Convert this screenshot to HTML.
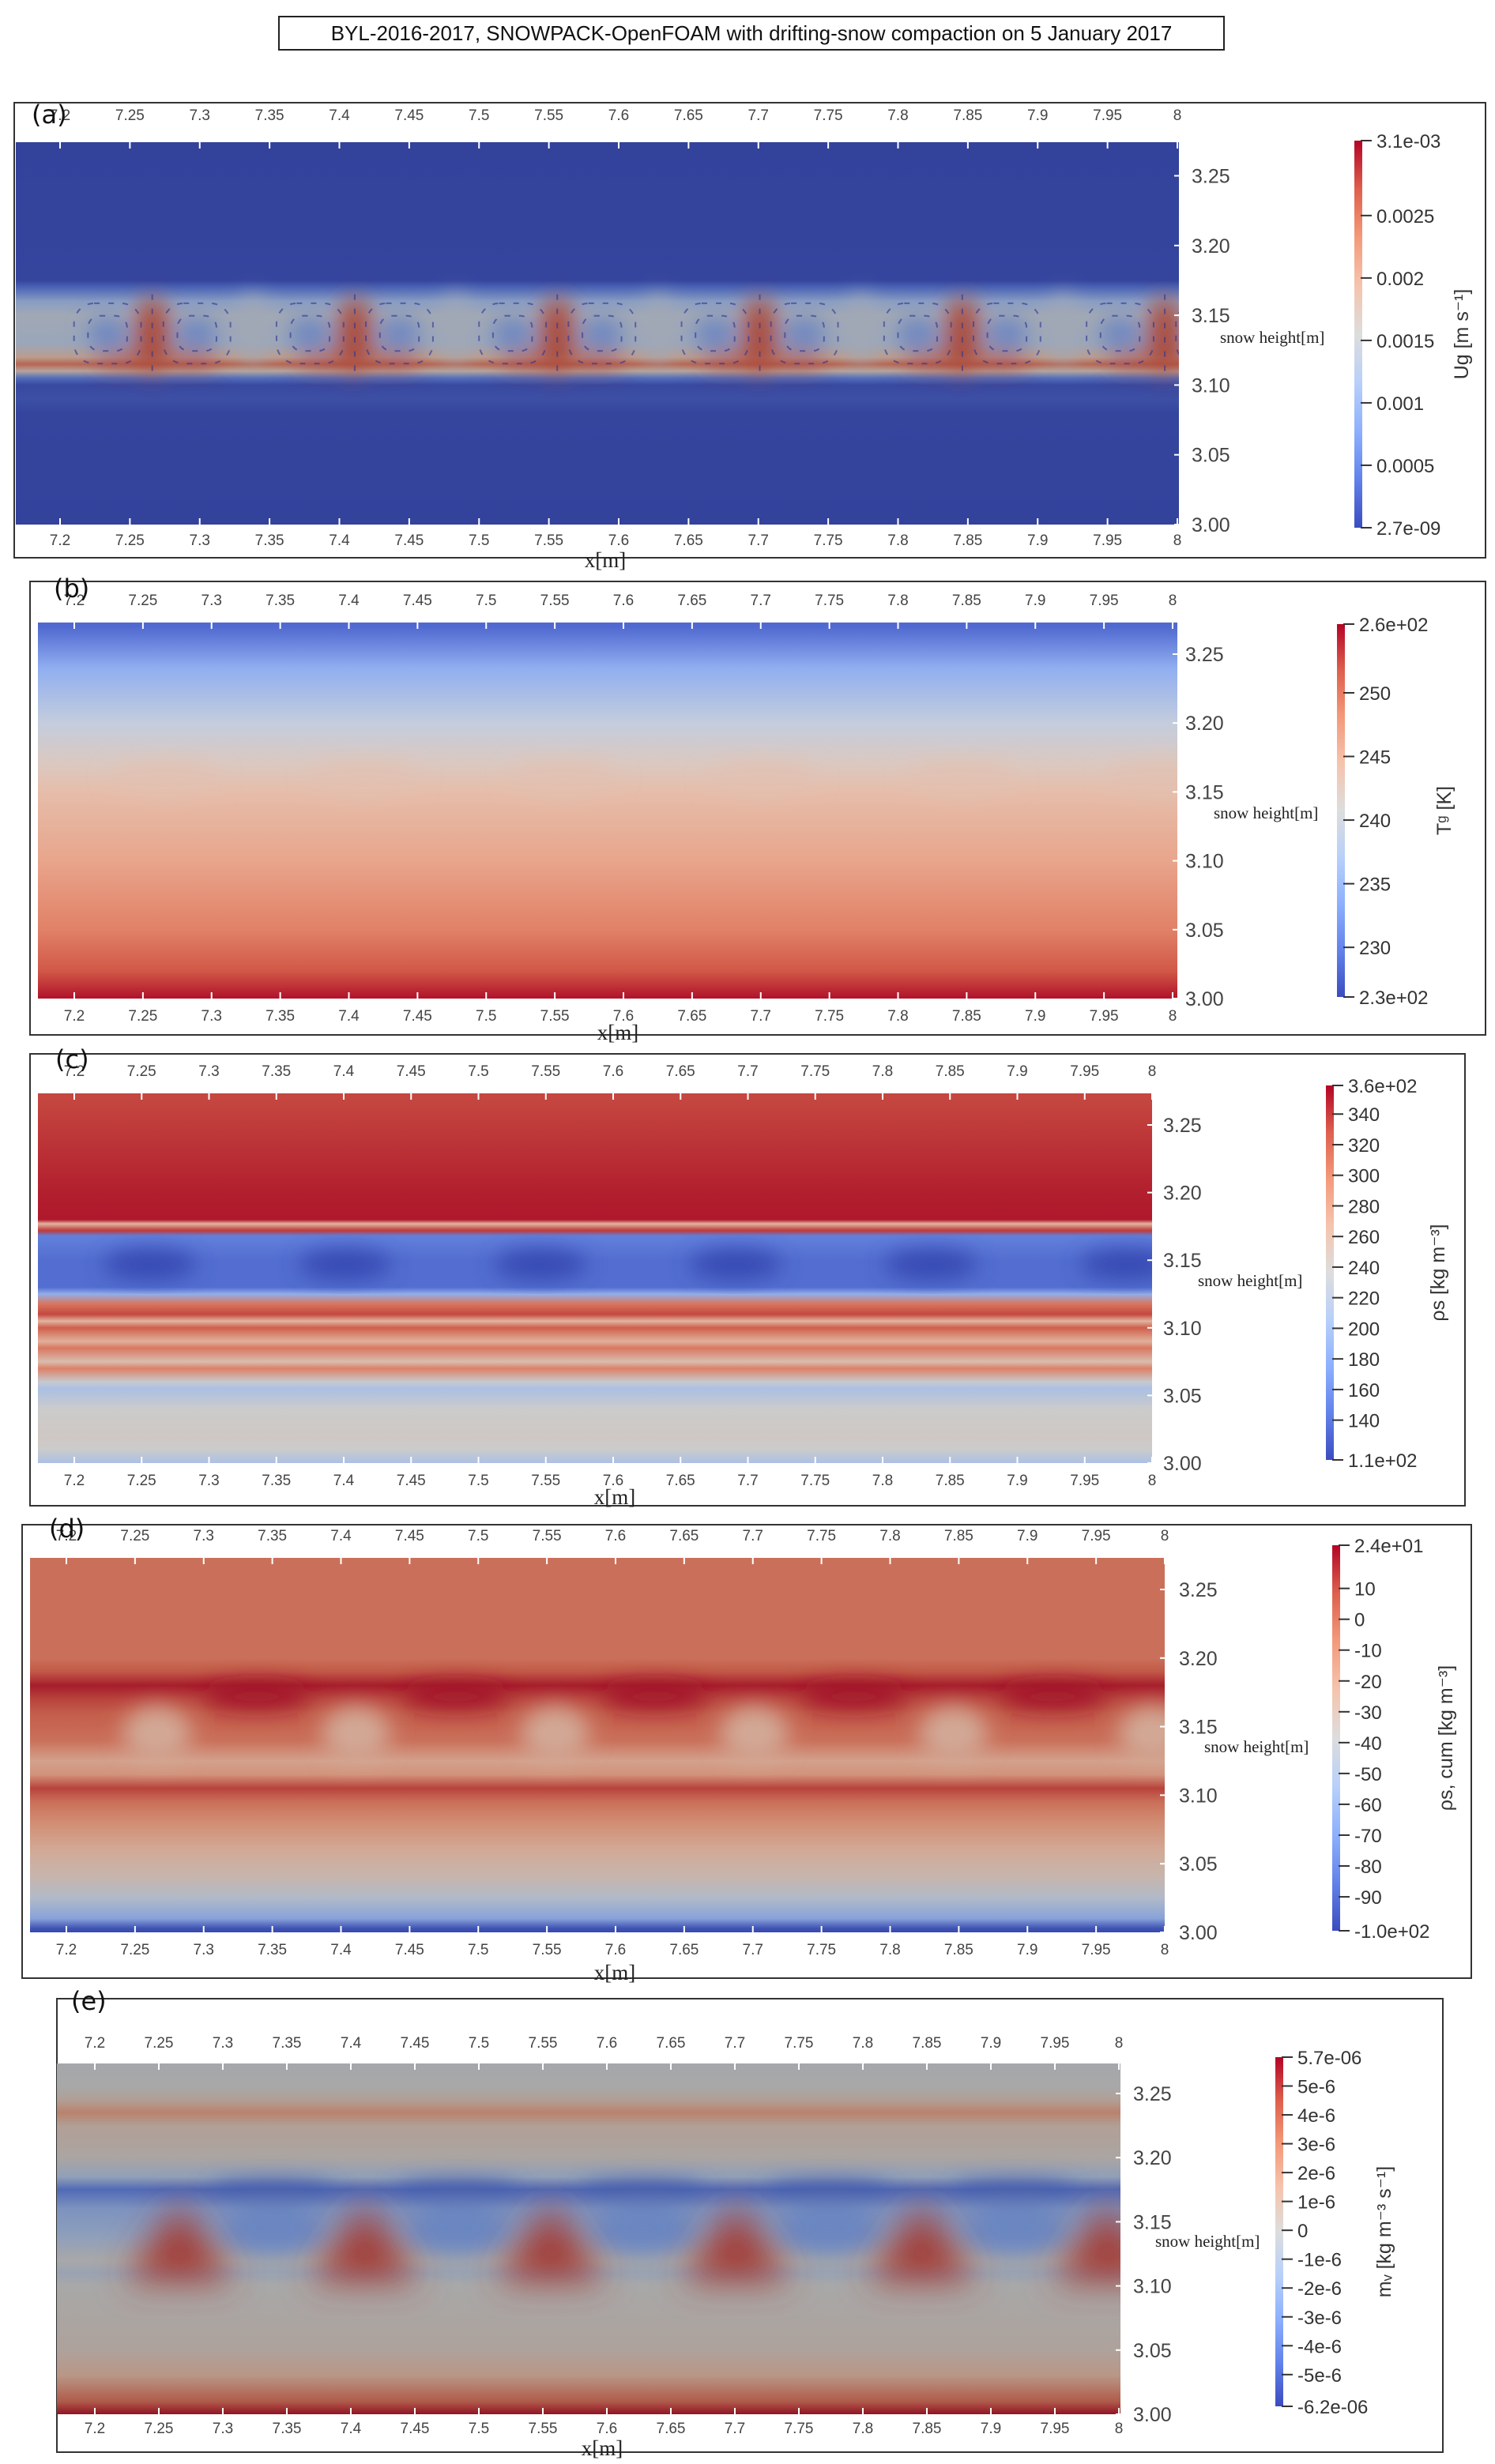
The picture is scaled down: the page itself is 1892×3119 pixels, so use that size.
<!DOCTYPE html>
<html><head><meta charset="utf-8">
<style>
html,body{margin:0;padding:0;background:#fff;}
body{width:1892px;height:3119px;position:relative;overflow:hidden;font-family:"Liberation Sans",sans-serif;}
#title{position:absolute;left:352px;top:20px;width:1194px;height:40px;border:2px solid #222;font-size:26px;line-height:40px;text-align:center;color:#111;}
svg{position:absolute;left:0;top:0;}
</style></head>
<body>
<div id="title">BYL-2016-2017, SNOWPACK-OpenFOAM with drifting-snow compaction on 5 January 2017</div>
<svg id="fig" width="1892" height="3119" xmlns="http://www.w3.org/2000/svg"></svg>
<script>
// ---------- data ----------
const xTicks = [7.2,7.25,7.3,7.35,7.4,7.45,7.5,7.55,7.6,7.65,7.7,7.75,7.8,7.85,7.9,7.95,8];
const xTickLabels = ["7.2","7.25","7.3","7.35","7.4","7.45","7.5","7.55","7.6","7.65","7.7","7.75","7.8","7.85","7.9","7.95","8"];
const yTicks = [3.00,3.05,3.10,3.15,3.20,3.25];
const yTickLabels = ["3.00","3.05","3.10","3.15","3.20","3.25"];
const cellX = [7.266,7.411,7.556,7.701,7.846,7.991];

const aHeights = [3.00,3.08,3.09,3.10,3.105,3.11,3.115,3.12,3.13,3.15,3.16,3.17,3.175,3.27];
const aValues  = [0.02,0.03,0.06,0.04,0.15,0.55,0.8,0.6,0.42,0.45,0.35,0.12,0.03,0.02];
const bHeights = [3.00,3.01,3.02,3.05,3.10,3.15,3.17,3.20,3.24,3.27];
const bValues  = [0.98,0.93,0.88,0.79,0.69,0.61,0.55,0.45,0.28,0.08];
const cHeights = [3.00,3.01,3.02,3.04,3.055,3.06,3.07,3.075,3.085,3.09,3.10,3.105,3.11,3.118,3.125,3.13,3.15,3.168,3.172,3.177,3.18,3.20,3.27];
const cValues  = [0.38,0.5,0.52,0.5,0.38,0.48,0.78,0.58,0.8,0.64,0.86,0.62,0.9,0.8,0.3,0.1,0.1,0.15,0.92,0.62,0.97,0.96,0.9];
const dHeights = [3.00,3.003,3.01,3.025,3.04,3.06,3.08,3.095,3.105,3.115,3.125,3.14,3.16,3.17,3.18,3.19,3.20,3.27];
const dValues  = [0.02,0.05,0.3,0.45,0.55,0.62,0.72,0.8,0.9,0.7,0.65,0.8,0.85,0.9,0.96,0.86,0.8,0.8];
const eHeights = [3.00,3.01,3.03,3.05,3.10,3.11,3.12,3.14,3.16,3.175,3.185,3.20,3.225,3.235,3.245,3.255,3.27];
const eValues  = [0.97,0.82,0.62,0.54,0.5,0.44,0.5,0.38,0.32,0.15,0.4,0.52,0.56,0.7,0.56,0.5,0.49];

const aCbLabels = ["3.1e-03","0.0025","0.002","0.0015","0.001","0.0005","2.7e-09"];
const aCbValues = [0.0031,0.0025,0.002,0.0015,0.001,0.0005,0];
const bCbLabels = ["2.6e+02","250","245","240","235","230","2.3e+02"];
const bCbValues = [255.4,250,245,240,235,230,226.1];
const cCbLabels = ["3.6e+02","340","320","300","280","260","240","220","200","180","160","140","1.1e+02"];
const cCbValues = [358.7,340,320,300,280,260,240,220,200,180,160,140,114];
const dCbLabels = ["2.4e+01","10","0","-10","-20","-30","-40","-50","-60","-70","-80","-90","-1.0e+02"];
const dCbValues = [24,10,0,-10,-20,-30,-40,-50,-60,-70,-80,-90,-101];
const eCbLabels = ["5.7e-06","5e-6","4e-6","3e-6","2e-6","1e-6","0","-1e-6","-2e-6","-3e-6","-4e-6","-5e-6","-6.2e-06"];
const eCbValues = [6.0,5,4,3,2,1,0,-1,-2,-3,-4,-5,-6.1];

// ---------- layout ----------
const panels = [
 {id:"a",frame:[18,130,1862,576],plot:[20,180,1492,664],x72:76,x8:1490,ys:1766,
  cb:[1714,178,10,490],cbTitle:"Ug [m s\u207B\u00B9]",cbTx:1858,ylx:1508,snow:[1544,434],top:152,bot:690,xl:[766,718],lab:[40,156],
  h:aHeights,v:aValues,cbl:aCbLabels,cbv:aCbValues,f:0.78},
 {id:"b",frame:[38,736,1842,574],plot:[48,788,1490,1264],x72:94,x8:1484,ys:1744,
  cb:[1692,790,10,472],cbTitle:"T\u1D4D [K]",cbTx:1836,ylx:1500,snow:[1536,1036],top:766,bot:1292,xl:[782,1316],lab:[68,756],
  h:bHeights,v:bValues,cbl:bCbLabels,cbv:bCbValues,f:0.95},
 {id:"c",frame:[38,1334,1816,572],plot:[48,1384,1458,1852],x72:94,x8:1458,ys:1712,
  cb:[1678,1374,10,474],cbTitle:"\u03C1s [kg m\u207B\u00B3]",cbTx:1828,ylx:1472,snow:[1516,1628],top:1362,bot:1880,xl:[778,1904],lab:[70,1352],
  h:cHeights,v:cValues,cbl:cCbLabels,cbv:cCbValues,f:0.92},
 {id:"d",frame:[28,1930,1834,574],plot:[38,1972,1474,2446],x72:84,x8:1474,ys:1736,
  cb:[1686,1956,10,488],cbTitle:"\u03C1s, cum [kg m\u207B\u00B3]",cbTx:1838,ylx:1492,snow:[1524,2218],top:1950,bot:2474,xl:[778,2506],lab:[62,1946],
  h:dHeights,v:dValues,cbl:dCbLabels,cbv:dCbValues,f:0.86},
 {id:"e",frame:[72,2530,1754,574],plot:[72,2612,1418,3056],x72:120,x8:1416,ys:1624,
  cb:[1614,2604,10,442],cbTitle:"m\u1D65 [kg m\u207B\u00B3 s\u207B\u00B9]",cbTx:1760,ylx:1434,snow:[1462,2844],top:2592,bot:3080,xl:[762,3108],lab:[90,2544],
  h:eHeights,v:eValues,cbl:eCbLabels,cbv:eCbValues,f:0.76}
];

const NS="http://www.w3.org/2000/svg";
const svg=document.getElementById("fig");
function el(tag,attrs,parent){const e=document.createElementNS(NS,tag);for(const k in attrs)e.setAttribute(k,attrs[k]);(parent||svg).appendChild(e);return e;}
const cmStops=[[0,59,76,192],[0.125,98,130,234],[0.25,141,176,254],[0.375,184,208,249],[0.5,221,221,221],[0.625,245,196,173],[0.75,244,154,123],[0.875,222,96,77],[1,180,4,38]];
function cw(t,f){t=Math.max(0,Math.min(1,t));f=f||1;for(let i=1;i<cmStops.length;i++){if(t<=cmStops[i][0]){const a=cmStops[i-1],b=cmStops[i];const u=(t-a[0])/(b[0]-a[0]);return "rgb("+[1,2,3].map(j=>Math.round((a[j]+(b[j]-a[j])*u)*f)).join(",")+")";}}return "rgb(180,4,38)";}

const defs=el("defs",{});
const blur=el("filter",{id:"blur",x:"-50%",y:"-50%",width:"200%",height:"200%"},defs);
el("feGaussianBlur",{stdDeviation:"14"},blur);
const blur3=el("filter",{id:"blur3",x:"-50%",y:"-50%",width:"200%",height:"200%"},defs);
el("feGaussianBlur",{stdDeviation:"22"},blur3);
const cbg=el("linearGradient",{id:"cbgrad",x1:"0",y1:"1",x2:"0",y2:"0"},defs);
cmStops.forEach(s=>el("stop",{offset:s[0],"stop-color":cw(s[0])},cbg));

panels.forEach(p=>{
  const g=el("g",{});
  
  
  const [px0,py0,px1,py1]=p.plot;
  const X=v=>p.x72+(v-7.2)*(p.x8-p.x72)/0.8;
  const Y=h=>py1-(h-3.0)*p.ys;
  const topM=3.0+(py1-py0)/p.ys;
  const fr=el("rect",{x:p.frame[0],y:p.frame[1],width:p.frame[2],height:p.frame[3],fill:"none",stroke:"#333","stroke-width":2},g);
  
  
  const gid="grad"+p.id;
  const lg=el("linearGradient",{id:gid,x1:"0",y1:"0",x2:"0",y2:"1"},defs);
  const idx=p.h.map((h,i)=>i).reverse();
  idx.forEach(i=>el("stop",{offset:((topM-p.h[i])/(topM-3.0)).toFixed(4),"stop-color":cw(p.v[i],p.f)},lg));
  const clip=el("clipPath",{id:"clip"+p.id},defs);
  el("rect",{x:px0,y:py0,width:px1-px0,height:py1-py0},clip);
  const field=el("g",{"clip-path":"url(#clip"+p.id+")"},g);
  
  
  el("rect",{x:px0,y:py0,width:px1-px0,height:py1-py0,fill:"url(#"+gid+")"},field);
  const fx=el("g",{filter:"url(#blur)"},field);
  const fx3=el("g",{filter:"url(#blur3)"},field);
  const pxm=(p.x8-p.x72)/0.8;
  cellX.forEach(cx=>{
    if(p.id==="a"){
      el("ellipse",{cx:X(cx),cy:Y(3.135),rx:0.012*pxm,ry:0.028*p.ys,fill:cw(0.88,p.f)},fx);
      el("ellipse",{cx:X(cx-0.032),cy:Y(3.137),rx:0.014*pxm,ry:0.01*p.ys,fill:cw(0.22,p.f)},fx);
      el("ellipse",{cx:X(cx+0.032),cy:Y(3.137),rx:0.014*pxm,ry:0.01*p.ys,fill:cw(0.22,p.f)},fx);
      el("ellipse",{cx:X(cx-0.022),cy:Y(3.117),rx:0.02*pxm,ry:0.004*p.ys,fill:cw(0.9,p.f)},fx);
      el("ellipse",{cx:X(cx+0.028),cy:Y(3.117),rx:0.02*pxm,ry:0.004*p.ys,fill:cw(0.9,p.f)},fx);
      el("ellipse",{cx:X(cx+0.0725),cy:Y(3.14),rx:0.01*pxm,ry:0.025*p.ys,fill:cw(0.45,p.f)},fx);
    } else if(p.id==="b"){
      el("ellipse",{cx:X(cx),cy:Y(3.16),rx:0.04*pxm,ry:0.012*p.ys,fill:cw(0.59,p.f),opacity:0.8},fx);
    } else if(p.id==="c"){
      el("ellipse",{cx:X(cx-0.01),cy:Y(3.147),rx:0.035*pxm,ry:0.011*p.ys,fill:cw(0.0,p.f)},fx);
    } else if(p.id==="d"){
      el("ellipse",{cx:X(cx),cy:Y(3.145),rx:0.025*pxm,ry:0.02*p.ys,fill:cw(0.62,p.f)},fx);
      el("ellipse",{cx:X(cx+0.0725),cy:Y(3.172),rx:0.04*pxm,ry:0.01*p.ys,fill:cw(0.97,p.f)},fx);
    } else if(p.id==="e"){
      el("ellipse",{cx:X(cx+0.0725),cy:Y(3.175),rx:0.05*pxm,ry:0.006*p.ys,fill:cw(0.08,p.f)},fx);
      el("ellipse",{cx:X(cx+0.0725),cy:Y(3.145),rx:0.04*pxm,ry:0.02*p.ys,fill:cw(0.25,p.f)},fx);
      const t=el("polygon",{points:[X(cx)+","+Y(3.165),X(cx+0.042)+","+Y(3.104),X(cx-0.042)+","+Y(3.104)].join(" "),fill:cw(0.9,p.f)},fx3);
      
      
    }
  });
  if(p.id==="a"){
    const ar=el("g",{fill:"none",stroke:"#2a3590","stroke-width":2,"stroke-dasharray":"7 11",opacity:0.6},field);
    
    
    cellX.forEach(cx=>{[-0.032,0.032].forEach(d=>{
      [0.014,0.024].forEach(r=>{
        el("rect",{x:X(cx+d)-r*pxm,y:Y(3.137)-r*p.ys*0.9,width:2*r*pxm,height:1.8*r*p.ys,rx:r*pxm*0.6},ar);
      });});
      el("line",{x1:X(cx),y1:Y(3.165),x2:X(cx),y2:Y(3.108)},ar);
    });
  }
  xTicks.forEach((v,i)=>{
    const x=X(v);
    el("line",{x1:x,y1:py0,x2:x,y2:py0+8,stroke:"#fff","stroke-width":2},g);
    el("line",{x1:x,y1:py1,x2:x,y2:py1-8,stroke:"#fff","stroke-width":2},g);
    [p.top,p.bot].forEach((yy,k)=>{
      const t=el("text",{x:x,y:yy,"font-size":19,fill:"#444","text-anchor":"middle","font-family":"Liberation Sans, sans-serif"},g);
      t.textContent=xTickLabels[i];
      
      
    });
  });
  yTicks.forEach((v,i)=>{
    const y=Y(v);
    el("line",{x1:px1,y1:y,x2:px1-6,y2:y,stroke:"#fff","stroke-width":2},g);
    const t=el("text",{x:p.ylx,y:y+9,"font-size":25,fill:"#444","font-family":"Liberation Sans, sans-serif"},g);
    t.textContent=yTickLabels[i];
    
    
  });
  const sh=el("text",{x:p.snow[0],y:p.snow[1],"font-size":21,fill:"#222","font-family":"Liberation Serif, serif"},g);
  sh.textContent="snow height[m]";
  
  
  const xl=el("text",{x:p.xl[0],y:p.xl[1],"font-size":27,fill:"#222","text-anchor":"middle","font-family":"Liberation Serif, serif"},g);
  xl.textContent="x[m]";
  
  
  const lb=el("text",{x:p.lab[0],y:p.lab[1],"font-size":32,fill:"#111","font-family":"DejaVu Sans, sans-serif"},g);
  lb.textContent="("+p.id+")";
  
  
  const [cx0,cy0,cw_,ch]=p.cb;
  const cbr=el("rect",{x:cx0,y:cy0,width:cw_,height:ch,fill:"url(#cbgrad)"},g);
  
  
  const vmax=p.cbv[0],vmin=p.cbv[p.cbv.length-1];
  p.cbv.forEach((v,i)=>{
    const y=cy0+(vmax-v)/(vmax-vmin)*ch;
    el("line",{x1:cx0+cw_-2,y1:y,x2:cx0+cw_+12,y2:y,stroke:"#333","stroke-width":2},g);
    const t=el("text",{x:cx0+cw_+18,y:y+9,"font-size":24,fill:"#333","font-family":"Liberation Sans, sans-serif"},g);
    t.textContent=p.cbl[i];
    
    
  });
  const ct=el("text",{x:p.cbTx,y:cy0+ch/2,"font-size":25,fill:"#333","text-anchor":"middle",transform:"rotate(-90 "+p.cbTx+" "+(cy0+ch/2)+")","font-family":"Liberation Sans, sans-serif"},g);
  ct.textContent=p.cbTitle;
  
  
});
</script>
</body></html>
